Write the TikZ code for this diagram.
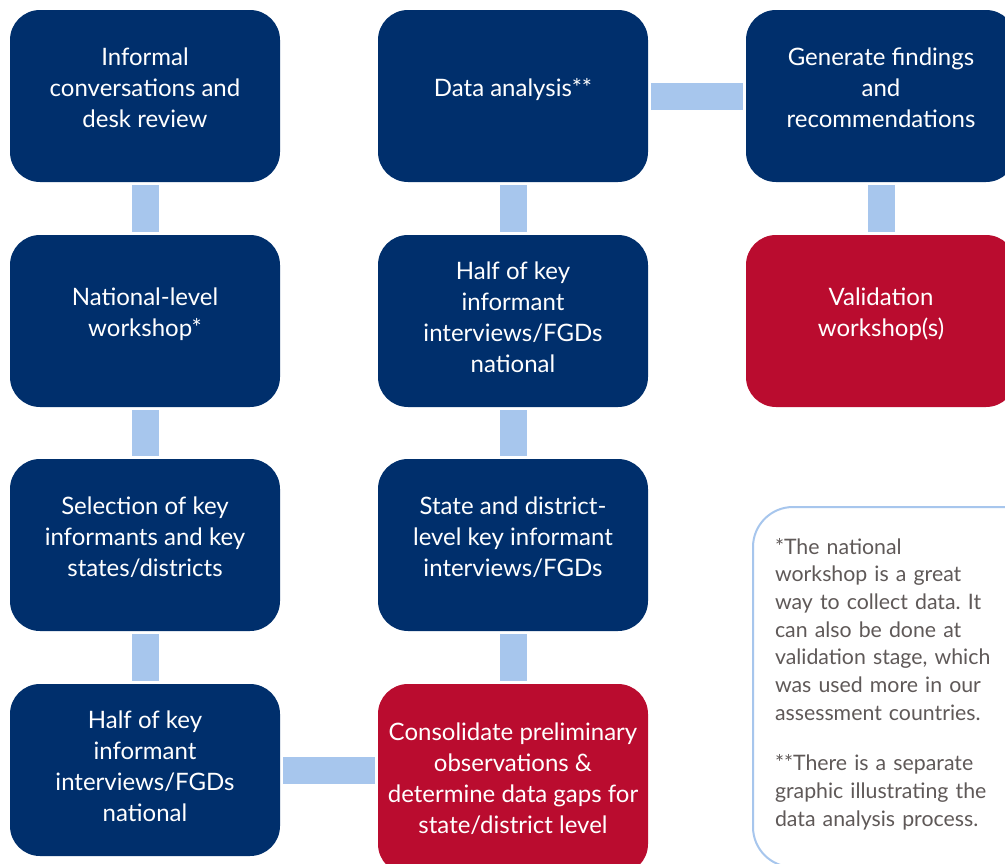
\documentclass[tikz,border=0pt]{standalone}
\usepackage{fontspec}
\setmainfont{Lato}
\usepackage{xcolor}
\definecolor{navy}{HTML}{002F6C}
\definecolor{crimson}{HTML}{BA0C2F}
\definecolor{paleblue}{HTML}{A7C6ED}
\definecolor{notegray}{HTML}{5F5958}
\frenchspacing

\tikzset{
  stage/.style={rectangle, rounded corners=30pt, fill=navy, text=white,
    minimum width=270pt, minimum height=172pt, inner sep=0pt, align=center,
    font=\fontsize{24}{31}\selectfont, text depth=17pt},
  hot/.style={stage, fill=crimson},
  link/.style={draw=paleblue, line width=27pt, shorten <=3pt, shorten >=3pt},
  note/.style={draw=paleblue, line width=2pt, rounded corners=40pt, fill=white,
    text=notegray, align=left, text width=245pt, inner xsep=22pt, inner ysep=31pt,
    font=\fontsize{21.3}{27.7}\selectfont, text depth=282pt}
}

\begin{document}
\begin{tikzpicture}[x=1pt,y=-1pt]
%\draw[help lines] (0,0) grid (1005,863);
\clip (0,0) rectangle (1005,863);

\node[stage] (informal) at (145,96) {Informal\\conversations and\\desk review};
\node[stage] (workshop) at (145,321) {National-level\\workshop*};
\node[stage] (selection) at (145,545) {Selection of key\\informants and key\\states/districts};
\node[stage, text depth=8pt] (halfnat) at (145,770) {Half of key\\informant\\interviews/FGDs\\national};

\node[stage] (analysis) at (513,96) {Data analysis**};
\node[stage, text depth=8pt] (halfkey) at (513,321) {Half of key\\informant\\interviews/FGDs\\national};
\node[stage] (statelevel) at (513,545) {State and district-\\level key informant\\interviews/FGDs};
\node[hot, minimum height=190pt, text depth=2pt] (consolidate) at (513,779)
  {Consolidate preliminary\\observations \&\\determine data gaps for\\state/district level};

\node[stage] (findings) at (881,96) {Generate findings\\and\\recommendations};
\node[hot] (validation) at (881,321) {Validation\\workshop(s)};

\draw[link] (informal) -- (workshop);
\draw[link] (workshop) -- (selection);
\draw[link] (selection) -- (halfnat);
\draw[link] (halfnat.east) -- (halfnat.east -| consolidate.west);
\draw[link] (consolidate) -- (statelevel);
\draw[link] (statelevel) -- (halfkey);
\draw[link] (halfkey) -- (analysis);
\draw[link] (analysis) -- (findings);
\draw[link] (findings) -- (validation);

\node[note, anchor=north west] (footnote) at (752,506)
  {*The national\\workshop is a great\\way to collect data. It\\can also be done at\\validation stage, which\\was used more in our\\assessment countries.\\[23pt]
   **There is a separate\\graphic illustrating the\\data analysis process.};
\end{tikzpicture}
\end{document}
